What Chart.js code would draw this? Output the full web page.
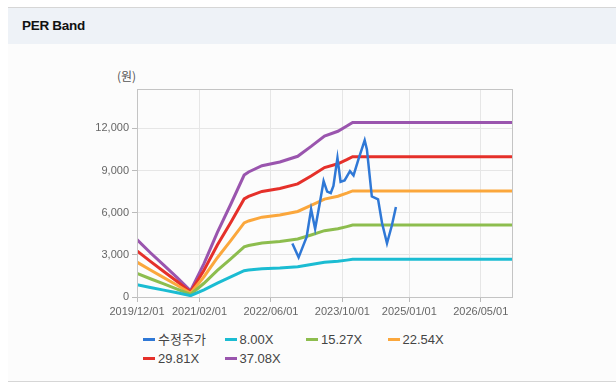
<!DOCTYPE html>
<html>
<head>
<meta charset="utf-8">
<script src="https://cdn.jsdelivr.net/npm/chart.js@4.4.0/dist/chart.umd.min.js"></script>
<style>
  html, body { margin: 0; padding: 0; width: 616px; height: 392px; background: #fff; overflow: hidden;
    font-family: 'Liberation Sans', Arial, 'Noto Sans CJK KR', sans-serif; }
  .top-line { position: absolute; left: 8px; right: 0; top: 7px; height: 1px; background: #d6d6d6; }
  .head { position: absolute; left: 8px; right: 0; top: 8px; height: 36px; background: #eef2f7; }
  .head span { position: absolute; left: 14px; top: 10px; font-size: 13.5px; font-weight: bold; color: #111; letter-spacing: -0.3px; }
  .panel { position: absolute; left: 8px; right: 0; top: 44px; height: 337px; background: #fcfcfc; }
  .bottom-line { position: absolute; left: 8px; right: 0; top: 381px; height: 1px; background: #d6d6d6; }
  #wrap { position: absolute; left: 0; top: 50px; width: 616px; height: 280px; }
  .unit { position: absolute; left: 117px; top: 67px; font-size: 12px; color: #555; font-family: 'Noto Sans CJK KR', sans-serif; }
  .lg { position: absolute; font-size: 13px; color: #444; white-space: nowrap; line-height: 16px; }
  .lg i { display: inline-block; width: 12px; height: 3px; vertical-align: middle; margin-right: 3px; margin-top: -2px; }
</style>
</head>
<body>
<div class="top-line"></div>
<div class="head"><span>PER Band</span></div>
<div class="panel"></div>
<div class="bottom-line"></div>
<div class="unit">(원)</div>
<div id="wrap"><canvas id="per-chart"></canvas></div>
<div id="legend"></div>
<script>
// x values are month offsets from 2019/12/01
const bandX   = [0, 3, 6, 9, 12, 15, 18, 21, 24, 25, 28, 32, 36, 39, 42, 45, 47, 48.3, 84]
const band800  = [880, 680, 488, 296, 96, 512, 992, 1424, 1872, 1920, 2016, 2072, 2160, 2312, 2472, 2544, 2624, 2680, 2680]
const band1527 = [1680, 1298, 931, 565, 183, 977, 1893, 2718, 3573, 3665, 3848, 3955, 4123, 4413, 4718, 4856, 5009, 5115, 5115]
const band2254 = [2479, 1916, 1375, 834, 270, 1443, 2795, 4012, 5274, 5410, 5680, 5838, 6086, 6514, 6965, 7168, 7393, 7551, 7551]
const band2981 = [3279, 2534, 1818, 1103, 358, 1908, 3696, 5306, 6976, 7154, 7512, 7721, 8049, 8615, 9211, 9480, 9778, 9986, 9986]
const band3708 = [4079, 3152, 2262, 1372, 445, 2373, 4598, 6600, 8677, 8899, 9344, 9604, 10012, 10716, 11458, 11791, 12162, 12422, 12422]

const priceX = [34.8, 36.2, 38.0, 39.0, 39.9, 40.9, 41.8, 42.6, 43.4, 44.0, 44.9, 45.6, 46.5, 47.7, 48.5, 49.6, 51.0, 51.5, 52.6, 53.3, 54.0, 54.9, 56.0, 57.1, 58.0]
const priceY = [3810, 2820, 4280, 6250, 4850, 6600, 8250, 7500, 7400, 7900, 9900, 8200, 8300, 8950, 8650, 9800, 11150, 10500, 7150, 7050, 6950, 5250, 3820, 5100, 6400]

const xTickIdx = [0, 14, 30, 46, 61, 77]
const xTickLabels = ['2019/12/01', '2021/02/01', '2022/06/01', '2023/10/01', '2025/01/01', '2026/05/01']
const yTicks = [0, 3000, 6000, 9000, 12000]

const seriesNames = ['수정주가', '8.00X', '15.27X', '22.54X', '29.81X', '37.08X']
const seriesColors = ['#2f78d6', '#1bbcd2', '#8dbd4e', '#fba73c', '#e5302a', '#9a55ae']

const toPts = (xs, ys) => xs.map((x, i) => ({ x, y: ys[i] }))
const bands = [band800, band1527, band2254, band2981, band3708]

const datasets = [
  { label: seriesNames[0], data: toPts(priceX, priceY), borderColor: seriesColors[0], borderWidth: 2.5 },
  ...bands.map((b, i) => ({ label: seriesNames[i + 1], data: toPts(bandX, b), borderColor: seriesColors[i + 1], borderWidth: 3 })),
].map(d => ({ ...d, pointRadius: 0, tension: 0, fill: false }))

// frame round the plot area
const frame = {
  id: 'frame',
  afterDraw(chart) {
    const { ctx, chartArea: a } = chart
    ctx.save()
    ctx.strokeStyle = '#c4c4c4'
    ctx.lineWidth = 1
    ctx.strokeRect(a.left + 0.5, a.top + 0.5, a.right - a.left, a.bottom - a.top)
    ctx.restore()
  }
}

const tickFont = { family: "'Liberation Sans', Arial, sans-serif", size: 11 }

new Chart(document.getElementById('per-chart'), {
  type: 'line',
  data: { datasets },
  plugins: [frame],
  options: {
    responsive: true,
    maintainAspectRatio: false,
    animation: false,
    layout: { padding: { left: 0, right: 104, top: 39, bottom: 0 } },
    plugins: { legend: { display: false }, tooltip: { enabled: false } },
    scales: {
      x: {
        type: 'linear', min: 0, max: 84,
        afterBuildTicks: s => { s.ticks = xTickIdx.map(v => ({ value: v })) },
        afterFit: s => { s.height = 33 },
        grid: { color: '#e6e6e6', tickLength: 5, tickColor: '#bbb' },
        border: { color: '#c4c4c4' },
        ticks: { color: '#666', font: tickFont, padding: 3, maxRotation: 0, autoSkip: false,
          callback: (v, i) => xTickLabels[i] },
      },
      y: {
        min: 0, max: 14800,
        afterBuildTicks: s => { s.ticks = yTicks.map(v => ({ value: v })) },
        afterFit: s => { s.width = 137 },
        grid: { color: '#e6e6e6', tickLength: 5, tickColor: '#bbb' },
        border: { color: '#c4c4c4' },
        ticks: { color: '#666', font: tickFont, padding: 3, callback: v => v.toLocaleString('en-US') },
      },
    },
  },
})

// legend laid out in fixed columns like the original
const lg = document.getElementById('legend')
seriesNames.forEach((name, i) => {
  const el = document.createElement('div')
  el.className = 'lg'
  el.style.left = (143 + (i % 4) * 81.5) + 'px'
  el.style.top = (332 + Math.floor(i / 4) * 19) + 'px'
  el.innerHTML = `<i style="background:${seriesColors[i]}"></i>${name}`
  lg.appendChild(el)
})
</script>
</body>
</html>
